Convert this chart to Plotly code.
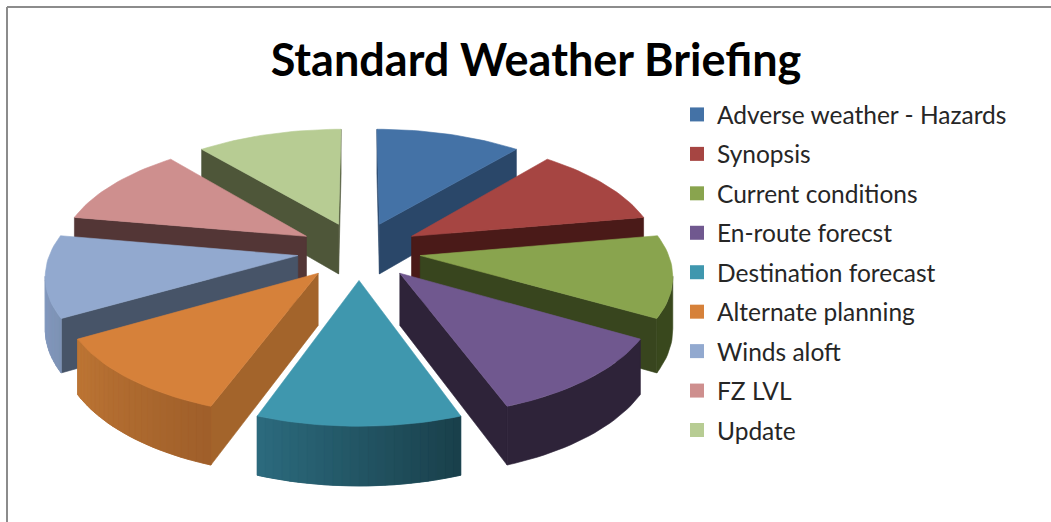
import math
import plotly.graph_objects as go

categories = ["Adverse weather - Hazards", "Synopsis", "Current conditions", "En-route forecst",
              "Destination forecast", "Alternate planning", "Winds aloft", "FZ LVL", "Update"]
values = [11.1, 11.1, 11.1, 11.1, 11.1, 11.1, 11.1, 11.1, 11.1]
top_colors = ["#4472A6", "#A64542", "#89A44E", "#70588F", "#3F97AE", "#D6813A", "#92A9CF", "#CE8F8E", "#B7CC93"]
wall_colors = ["#2A4769", "#4A1A18", "#38451E", "#2E2339", "#1F4C59", "#A3642B", "#475468", "#533636", "#4E5639"]
arc_start = ["#2A4769", "#4A1A18", "#39481D", "#2E2339", "#193F4A", "#9F5F2A", "#7D92B5", "#533636", "#4E5639"]
arc_end = ["#2A4769", "#4A1A18", "#39481D", "#2E2339", "#2C6B7E", "#BD7534", "#8EA4CA", "#533636", "#4E5639"]
title = "Standard Weather Briefing"

# Pie projection, in page pixels
CX, CY, RX, RY, DEPTH, EXPLODE, HEIGHT = 359, 250.5, 247, 115.5, 7.0, 0.25, 51


def project(theta, radius, mid, lower=False):
    x = EXPLODE * math.sin(mid) + radius * math.sin(theta)
    y = EXPLODE * math.cos(mid) + radius * math.cos(theta)
    s = DEPTH / (DEPTH + y)
    return (CX + RX * x * s, CY - RY * y * s + (HEIGHT * s ** 0.8 if lower else 0))


def mix(a, b, t):
    ca = [int(a[i:i + 2], 16) for i in (1, 3, 5)]
    cb = [int(b[i:i + 2], 16) for i in (1, 3, 5)]
    return "rgb(%d,%d,%d)" % tuple(round(p + (q - p) * t) for p, q in zip(ca, cb))


def poly(points, color, name=None):
    xs, ys = zip(*points)
    return go.Scatter(x=list(xs) + [xs[0]], y=list(ys) + [ys[0]], mode="lines", fill="toself", fillcolor=color,
                      line=dict(color=color, width=0.6), showlegend=False, hoverinfo="skip" if name is None else "text",
                      text=name)


def area(pts):
    return sum(pts[i][0] * pts[(i + 1) % len(pts)][1] - pts[(i + 1) % len(pts)][0] * pts[i][1]
               for i in range(len(pts))) / 2


total = sum(values)
spans, acc = [], 0.0
for v in values:
    spans.append((acc / total * 2 * math.pi, (acc + v) / total * 2 * math.pi))
    acc += v

fig = go.Figure()
N = 24
order = sorted(range(len(values)), key=lambda i: -math.cos(sum(spans[i]) / 2))
for i in order:
    a, b = spans[i]
    m = (a + b) / 2
    thetas = [a + (b - a) * k / N for k in range(N + 1)]
    tip, tip_l = project(0, 0, m), project(0, 0, m, True)
    arc = [project(t, 1, m) for t in thetas]
    arc_l = [project(t, 1, m, True) for t in thetas]
    for p, q, pl, ql in ((tip, arc[0], tip_l, arc_l[0]), (arc[-1], tip, arc_l[-1], tip_l)):
        quad = [p, q, ql, pl]
        if area(quad) < 0:
            fig.add_trace(poly(quad, wall_colors[i]))
    front = [k for k in range(N) if area([arc[k], arc[k + 1], arc_l[k + 1], arc_l[k]]) < 0]
    if front:
        lo, hi = front[0], front[-1] + 1
        band = arc[lo:hi + 1] + arc_l[lo:hi + 1][::-1]
        fig.add_trace(poly(band, mix(arc_start[i], arc_end[i], 0.5)))
        if arc_start[i] != arc_end[i]:
            for k in front:
                quad = [arc[k], arc[k + 1], arc_l[k + 1], arc_l[k]]
                fig.add_trace(poly(quad, mix(arc_start[i], arc_end[i], (k + 0.5) / N)))
    fig.add_trace(poly([tip] + arc, top_colors[i], name="%s: %.1f%%" % (categories[i], values[i])))

for i, c in enumerate(categories):
    fig.add_trace(go.Scatter(x=[None], y=[None], mode="markers", name=c, legendgroup="g%d" % i,
                             marker=dict(symbol="square", size=14, color=top_colors[i])))

fig.update_layout(
    width=1051, height=522, autosize=False,
    margin=dict(l=0, r=0, t=0, b=0, pad=0),
    paper_bgcolor="white", plot_bgcolor="white",
    xaxis=dict(range=[0, 1051], visible=False, fixedrange=True),
    yaxis=dict(range=[522, 0], visible=False, fixedrange=True),
    title=dict(text="<b>%s</b>" % title, x=536 / 1051, xanchor="center", y=1 - 60 / 522, yanchor="middle",
               yref="container", font=dict(family="Lato", size=45, color="#000000")),
    legend=dict(x=677 / 1051, xanchor="left", y=1 - 92 / 522, yanchor="top", bgcolor="rgba(0,0,0,0)",
                font=dict(family="Lato", size=24.5, color="#262626"), tracegroupgap=4.6, itemclick=False,
                itemdoubleclick=False),
    shapes=[
        dict(type="line", xref="paper", yref="paper", x0=7 / 1051, x1=1, y0=1 - 7 / 522, y1=1 - 7 / 522,
             line=dict(color="#8C8C8C", width=2)),
        dict(type="line", xref="paper", yref="paper", x0=7 / 1051, x1=7 / 1051, y0=0, y1=1 - 7 / 522,
             line=dict(color="#8C8C8C", width=2)),
    ],
)
fig.write_html("out.html", config=dict(displayModeBar=False),
               post_script="document.body.style.margin='0';document.body.style.overflow='hidden';")
